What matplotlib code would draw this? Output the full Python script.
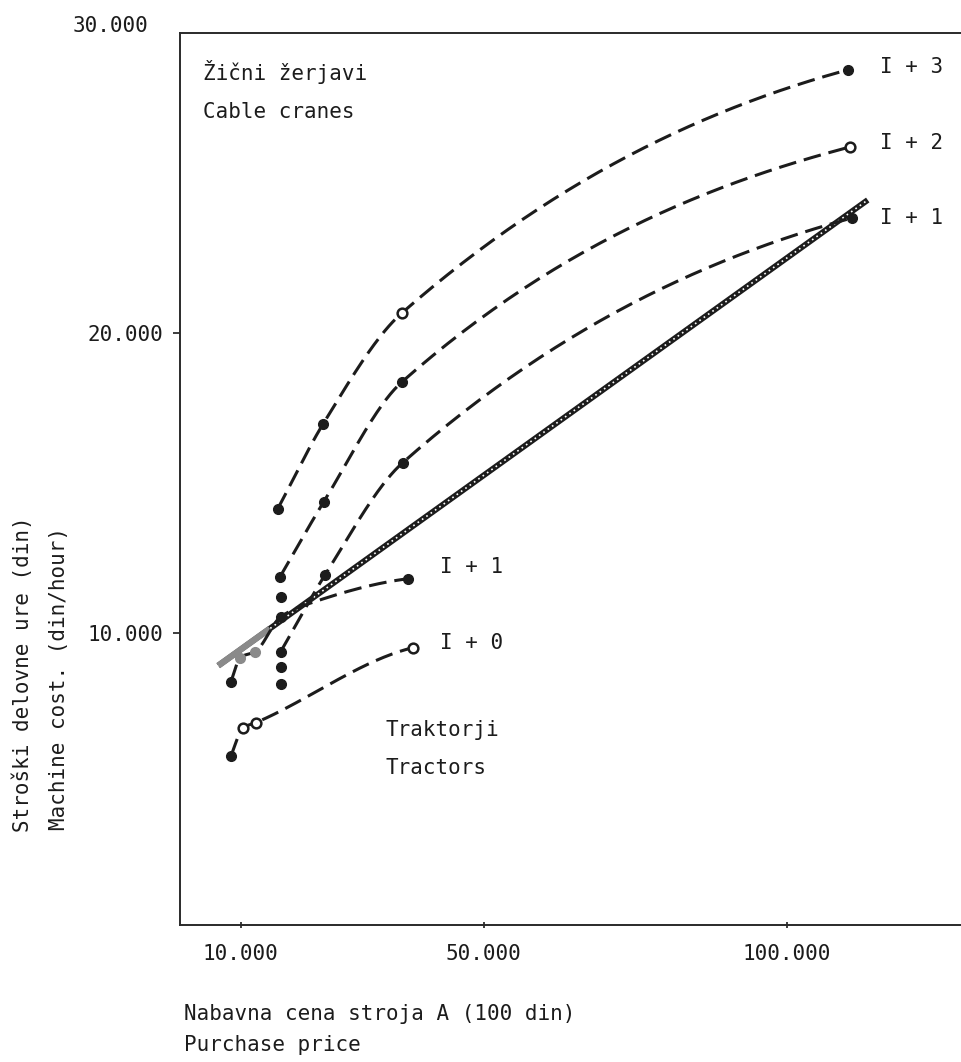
import numpy as np
import matplotlib.pyplot as plt
from matplotlib.transforms import ScaledTranslation

plt.rcParams["font.family"] = ["DejaVu Sans Mono"]
plt.rcParams["font.size"] = 15

INK = "#1c1c1c"

# cable cranes (Žični žerjavi): purchase price vs. machine cost per hour
c13_x = [16100, 23600, 36600, 110000]
c13_y = [14130, 16970, 20670, 28770]
c12_x = [16500, 23700, 36600, 110400]
c12_y = [11870, 14370, 18370, 26200]
c11_x = [16600, 23900, 36700, 110700]
c11_y = [9370, 11930, 15670, 23830]

# tractors (Traktorji)
t10_x = [8400, 10400, 12500, 38400]
t10_y = [5900, 6830, 7000, 9500]
t11_x = [8400, 9900, 12400, 16600, 21700, 37600]
t11_y = [8370, 9170, 9370, 10530, 11000, 11800]

# loose points in the column at 16.600
col_x = [16600, 16600, 16600]
col_y = [11200, 8870, 8300]

# straight trend line
trend_x = [6300, 113300]
trend_y = [8900, 24430]
trend_grey_x = [6300, 14800]

xticks = [10000, 50000, 100000]
xtick_labels = ["10.000", "50.000", "100.000"]
yticks = [10000, 20000, 30000]
ytick_labels = ["10.000", "20.000", "30.000"]

DASH = (0, (5.8, 2.6))


def pchip(xs, ys, n=60):
    # shape-preserving cubic through the read points, used only for drawing
    x = np.asarray(xs, float)
    y = np.asarray(ys, float)
    h = np.diff(x)
    d = np.diff(y) / h
    m = np.zeros_like(x)
    for k in range(1, len(x) - 1):
        if d[k - 1] * d[k] > 0:
            w1 = 2 * h[k] + h[k - 1]
            w2 = h[k] + 2 * h[k - 1]
            m[k] = (w1 + w2) / (w1 / d[k - 1] + w2 / d[k])
    m[0] = d[0]
    m[-1] = 0.5 * d[-1]
    ox, oy = [], []
    for k in range(len(x) - 1):
        t = np.linspace(0, 1, n)
        h00 = 2 * t ** 3 - 3 * t ** 2 + 1
        h10 = t ** 3 - 2 * t ** 2 + t
        h01 = -2 * t ** 3 + 3 * t ** 2
        h11 = t ** 3 - t ** 2
        ox.append(x[k] + t * h[k])
        oy.append(h00 * y[k] + h10 * h[k] * m[k] + h01 * y[k + 1]
                  + h11 * h[k] * m[k + 1])
    return np.concatenate(ox), np.concatenate(oy)


fig = plt.figure(figsize=(9.61, 10.62), dpi=100)
W, H = 961, 1062
ax = fig.add_axes([180 / W, 1 - 925 / H, 1 - 180 / W, (925 - 33) / H])
ax.set_xlim(0, (961 - 180) / 6.07 * 1000)
ax.set_ylim(250, 30000)

# trend line: thick black with a speckled white core
ax.plot(trend_x, trend_y, color=INK, lw=4.2, solid_capstyle="butt", zorder=2)
ax.plot(trend_x, trend_y, color="white", lw=1.2, ls=(0, (1, 2.2)), zorder=3)
gy = np.interp(trend_grey_x, trend_x, trend_y)
ax.plot(trend_grey_x, gy, color="#8a8a8a", lw=4.6, solid_capstyle="butt", zorder=4)

for xs, ys in [(c13_x, c13_y), (c12_x, c12_y), (c11_x, c11_y),
               (t10_x, t10_y), (t11_x, t11_y)]:
    sx, sy = pchip(xs, ys)
    ax.plot(sx, sy, color=INK, lw=2.2, ls=DASH, zorder=5)

dot = dict(ls="none", marker="o", ms=7, color=INK, zorder=6)
ring = dict(ls="none", marker="o", ms=7, mfc="white", mec=INK, mew=1.8, zorder=6)
ax.plot(c13_x[:2] + c13_x[3:], c13_y[:2] + c13_y[3:], **dot)
ax.plot(c13_x[2], c13_y[2], **ring)
ax.plot(c12_x[:3], c12_y[:3], **dot)
ax.plot(c12_x[3], c12_y[3], **ring)
ax.plot(c11_x, c11_y, **dot)
ax.plot(col_x, col_y, **dot)
ax.plot(t10_x[:1], t10_y[:1], **dot)
ax.plot(t10_x[1:], t10_y[1:], **ring)
ax.plot(t11_x[:1] + t11_x[3:4] + t11_x[5:], t11_y[:1] + t11_y[3:4] + t11_y[5:], **dot)
ax.plot(t11_x[1:3], t11_y[1:3], ls="none", marker="o", ms=7, color="#8a8a8a", zorder=6)

# curve labels
kw = dict(color=INK, va="center", ha="left")
ax.text(115300, 28870, "I + 3", **kw)
ax.text(115300, 26330, "I + 2", **kw)
ax.text(115300, 23830, "I + 1", **kw)
ax.text(42800, 12200, "I + 1", **kw)
ax.text(42800, 9670, "I + 0", **kw)
ax.text(33800, 6770, "Traktorji", **kw)
ax.text(33800, 5500, "Tractors", **kw)
ax.text(3800, 28700, "Žični žerjavi", **kw)
ax.text(3800, 27370, "Cable cranes", **kw)

ax.set_xticks(xticks)
ax.set_xticklabels(xtick_labels)
ax.set_yticks(yticks)
ax.set_yticklabels(ytick_labels)
ax.tick_params(axis="x", direction="inout", length=5, width=1.2, pad=11,
               colors=INK)
ax.tick_params(axis="y", direction="out", length=5, width=1.2, pad=7,
               colors=INK)
top_lab = ax.get_yticklabels()[-1]
top_lab.set_transform(top_lab.get_transform()
                      + ScaledTranslation(-0.15, 0.09, fig.dpi_scale_trans))
ax.yaxis.get_major_ticks()[-1].tick1line.set_visible(False)

for side in ("left", "bottom", "top"):
    ax.spines[side].set_linewidth(1.4)
    ax.spines[side].set_color("#2a2a2a")
ax.spines["right"].set_visible(False)

fig.text(184 / W, 1 - 1014 / H, "Nabavna cena stroja A (100 din)",
         color=INK, va="center", ha="left")
fig.text(184 / W, 1 - 1045 / H, "Purchase price",
         color=INK, va="center", ha="left")
fig.text(23 / W, 1 - 832 / H, "Stroški delovne ure (din)", rotation=90,
         color=INK, va="bottom", ha="center")
fig.text(59 / W, 1 - 830 / H, "Machine cost. (din/hour)", rotation=90,
         color=INK, va="bottom", ha="center")

fig.savefig("out.png", dpi=100, facecolor="white")
